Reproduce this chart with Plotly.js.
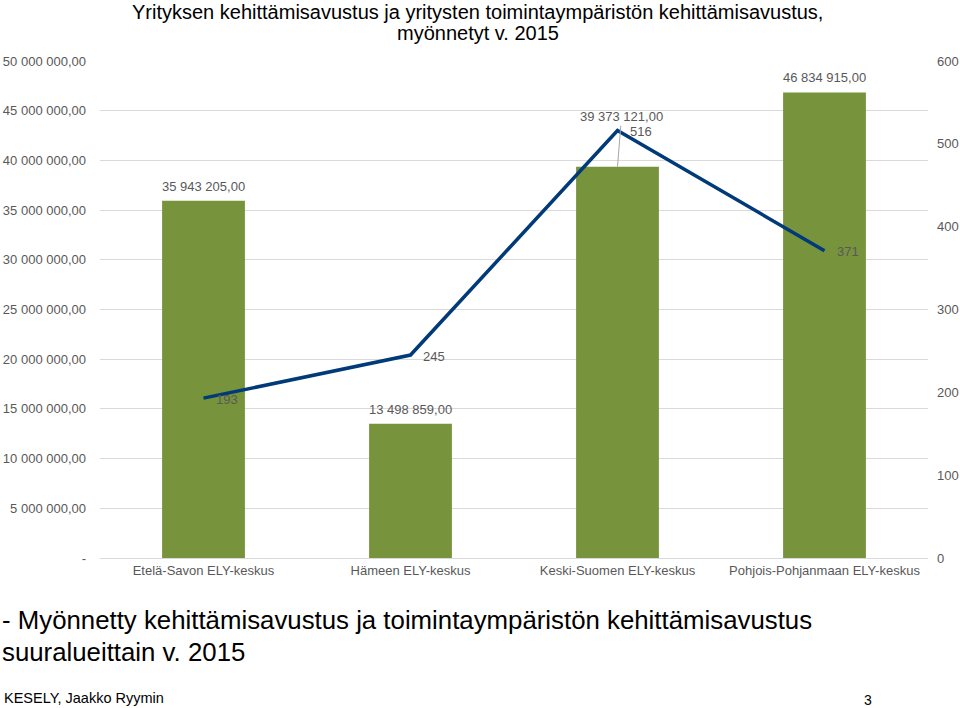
<!DOCTYPE html>
<html>
<head>
<meta charset="utf-8">
<script src="https://cdn.plot.ly/plotly-3.0.1.min.js"></script>
<style>html,body{margin:0;padding:0;background:#fff;}#chart{width:960px;height:708px;}</style>
</head>
<body>
<div id="chart"></div>
<script>
const categories = ['Etelä-Savon ELY-keskus', 'Hämeen ELY-keskus', 'Keski-Suomen ELY-keskus', 'Pohjois-Pohjanmaan ELY-keskus'];
const amounts = [35943205, 13498859, 39373121, 46834915];
const counts = [193, 245, 516, 371];
const leftTickVals = [0, 5000000, 10000000, 15000000, 20000000, 25000000, 30000000, 35000000, 40000000, 45000000, 50000000];
const leftTickText = ['-', '5 000 000,00', '10 000 000,00', '15 000 000,00', '20 000 000,00', '25 000 000,00', '30 000 000,00', '35 000 000,00', '40 000 000,00', '45 000 000,00', '50 000 000,00'];
const rightTickVals = [0, 100, 200, 300, 400, 500, 600];
const titleLines = ['Yrityksen kehittämisavustus ja yritysten toimintaympäristön kehittämisavustus,', 'myönnetyt v. 2015'];
const captionLines = ['- Myönnetty kehittämisavustus ja toimintaympäristön kehittämisavustus', 'suuralueittain v. 2015'];
const footerText = 'KESELY, Jaakko Ryymin';
const pageNumber = '3';

function fmt(n) {
  const parts = n.toFixed(2).split('.');
  return parts[0].replace(/\B(?=(\d{3})+(?!\d))/g, ' ') + ',' + parts[1];
}

const grey = '#595959';
const font = 'Liberation Sans, Arial, sans-serif';

const traces = [
  {
    type: 'bar', x: categories, y: amounts, marker: {color: '#77933C'},
    width: 0.4, hoverinfo: 'x+y', showlegend: false
  },
  {
    type: 'scatter', mode: 'lines', x: categories, y: counts, yaxis: 'y2',
    line: {color: '#003A78', width: 3.5}, showlegend: false
  }
];

const annotations = [];
amounts.forEach((v, i) => {
  if (i === 2) {
    annotations.push({x: categories[i], y: v, xref: 'x', yref: 'y', text: fmt(v),
      showarrow: true, arrowhead: 0, arrowwidth: 1, arrowcolor: '#a6a6a6', ax: 4, ay: -50, standoff: 0,
      font: {family: font, size: 13, color: grey}});
  } else {
    annotations.push({x: categories[i], y: v, xref: 'x', yref: 'y', text: fmt(v), showarrow: false,
      yanchor: 'bottom', yshift: 5, font: {family: font, size: 13, color: grey}});
  }
});
counts.forEach((v, i) => {
  annotations.push({x: categories[i], y: v, xref: 'x', yref: 'y2', text: String(v), showarrow: false,
    xshift: 23, yshift: -1, font: {family: font, size: 13, color: grey}});
});
// chart title (two lines)
annotations.push({xref: 'paper', yref: 'paper', x: 0.4565, y: 1.0986, xanchor: 'center', yanchor: 'middle',
  text: titleLines[0], showarrow: false, font: {family: font, size: 20, color: '#000'}});
annotations.push({xref: 'paper', yref: 'paper', x: 0.4565, y: 1.0573, xanchor: 'center', yanchor: 'middle',
  text: titleLines[1], showarrow: false, font: {family: font, size: 20, color: '#000'}});
// caption and footer
annotations.push({xref: 'paper', yref: 'paper', x: -0.1208, y: -0.1247, xanchor: 'left', yanchor: 'middle',
  text: captionLines[0], showarrow: false, font: {family: font, size: 25.8, color: '#000'}});
annotations.push({xref: 'paper', yref: 'paper', x: -0.1208, y: -0.1891, xanchor: 'left', yanchor: 'middle',
  text: captionLines[1], showarrow: false, font: {family: font, size: 25.8, color: '#000'}});
annotations.push({xref: 'paper', yref: 'paper', x: -0.118, y: -0.2817, xanchor: 'left', yanchor: 'middle',
  text: footerText, showarrow: false, font: {family: font, size: 14.5, color: '#000'}});
annotations.push({xref: 'paper', yref: 'paper', x: 0.927, y: -0.2857, xanchor: 'center', yanchor: 'middle',
  text: pageNumber, showarrow: false, font: {family: font, size: 14, color: '#000'}});

const layout = {
  width: 960, height: 708,
  margin: {l: 100, r: 32, t: 61, b: 150},
  paper_bgcolor: '#fff', plot_bgcolor: '#fff',
  font: {family: font, size: 13, color: grey},
  xaxis: {type: 'category', showgrid: false, zeroline: false, showline: true, linecolor: '#d9d9d9', linewidth: 1,
    ticks: '', tickfont: {family: font, size: 13, color: grey}, fixedrange: true},
  yaxis: {range: [0, 50000000], tickvals: leftTickVals, ticktext: leftTickText, showgrid: true, gridcolor: '#d9d9d9',
    gridwidth: 1, zeroline: false, showline: false, ticks: '', ticklabelstandoff: 13,
    tickfont: {family: font, size: 13, color: grey}},
  yaxis2: {range: [0, 600], tickvals: rightTickVals, overlaying: 'y', side: 'right', showgrid: false, zeroline: false,
    showline: false, ticks: '', ticklabelstandoff: 8, tickfont: {family: font, size: 13, color: grey}},
  annotations: annotations,
  showlegend: false
};

Plotly.newPlot('chart', traces, layout, {displayModeBar: false, staticPlot: true});
</script>
</body>
</html>
